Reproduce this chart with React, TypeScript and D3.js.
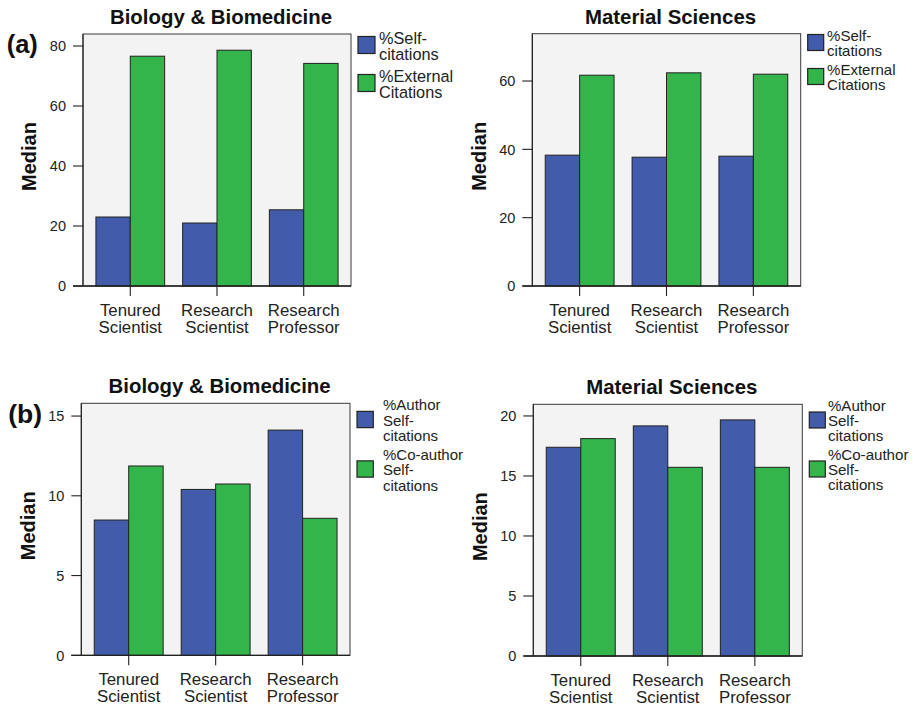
import React from "react";
import * as d3 from "d3";

// Categories shared by all four panels
const categories: string[][] = [
  ["Tenured", "Scientist"],
  ["Research", "Scientist"],
  ["Research", "Professor"],
];
const categoryKeys = ["Tenured Scientist", "Research Scientist", "Research Professor"];

// (a) self vs external citations (median, %)
const bioSelf = [23.0, 21.0, 25.4];
const bioExternal = [76.6, 78.6, 74.2];
const matSelf = [38.3, 37.7, 38.0];
const matExternal = [61.7, 62.4, 62.0];

// (b) author vs co-author self-citations (median, %)
const bioAuthor = [8.48, 10.4, 14.12];
const bioCoauthor = [11.87, 10.74, 8.59];
const matAuthor = [17.39, 19.17, 19.67];
const matCoauthor = [18.11, 15.72, 15.72];

const ticksA1 = [0, 20, 40, 60, 80];
const ticksA2 = [0, 20, 40, 60];
const ticksB1 = [0, 5, 10, 15];
const ticksB2 = [0, 5, 10, 15, 20];

const legendA = [["%Self-", "citations"], ["%External", "Citations"]];
const legendB = [["%Author", "Self-", "citations"], ["%Co-author", "Self-", "citations"]];

const BLUE = "#435bab";
const GREEN = "#34b54b";
const FONT = "'Liberation Sans', Arial, Helvetica, sans-serif";

interface LegendSpec {
  labels: string[][];
  fontSize: number;
  lineHeight: number;
  firstCenter: number;
  itemGap: number;
  swatch: number;
  textGap: number;
}

interface PanelProps {
  title: string;
  left: number;
  right: number;
  top: number;
  bottom: number;
  yMax: number;
  ticks: number[];
  series: number[][];
  legend: LegendSpec;
}

function Panel({ title, left, right, top, bottom, yMax, ticks, series, legend }: PanelProps) {
  const y = d3.scaleLinear().domain([0, yMax]).range([bottom, top]);
  const x = d3
    .scaleBand<string>()
    .domain(categoryKeys)
    .range([left, right])
    .paddingInner(0.2076)
    .paddingOuter(0.149);
  const xs = d3
    .scaleBand<number>()
    .domain(series.map((_, i) => i))
    .range([0, x.bandwidth()]);
  const colors = [BLUE, GREEN];
  const midY = (top + bottom) / 2;
  const legendX = right + 7;

  return (
    <g>
      <rect x={left} y={top} width={right - left} height={bottom - top} fill="#f3f3f3" stroke="#3a3a3a" strokeWidth={1} />
      {series.map((vals, si) =>
        vals.map((v, ci) => (
          <rect
            key={`${si}-${ci}`}
            x={(x(categoryKeys[ci]) ?? 0) + (xs(si) ?? 0)}
            y={y(v)}
            width={xs.bandwidth()}
            height={y(0) - y(v)}
            fill={colors[si]}
            stroke="#222"
            strokeWidth={1}
          />
        ))
      )}
      {/* axes */}
      <line x1={left - 10} x2={right} y1={bottom} y2={bottom} stroke="#222" strokeWidth={1.3} />
      <line x1={left} x2={left} y1={top} y2={bottom} stroke="#222" strokeWidth={1.1} />
      {ticks.map((t) => (
        <g key={t}>
          <line x1={left - 10} x2={left} y1={y(t)} y2={y(t)} stroke="#222" strokeWidth={1.1} />
          <text x={left - 17} y={y(t)} dy="0.36em" textAnchor="end" fontSize={14.5} fill="#222" fontFamily={FONT}>
            {t}
          </text>
        </g>
      ))}
      {categoryKeys.map((k, ci) => {
        const cx = (x(k) ?? 0) + x.bandwidth() / 2;
        return (
          <g key={k}>
            <line x1={cx} x2={cx} y1={bottom} y2={bottom + 10} stroke="#222" strokeWidth={1.1} />
            <text x={cx} y={bottom + 30} textAnchor="middle" fontSize={16.8} fill="#222" fontFamily={FONT}>
              {categories[ci].map((line, li) => (
                <tspan key={li} x={cx} dy={li === 0 ? 0 : 16.8}>
                  {line}
                </tspan>
              ))}
            </text>
          </g>
        );
      })}
      <text x={(left + right) / 2 + 4} y={top - 10} textAnchor="middle" fontSize={20.4} fontWeight="bold" fill="#111" fontFamily={FONT}>
        {title}
      </text>
      <text
        transform={`translate(${left - 54},${midY - 3.5}) rotate(-90)`}
        textAnchor="middle"
        dy="0.36em"
        fontSize={20}
        fontWeight="bold"
        fill="#111"
        fontFamily={FONT}
      >
        Median
      </text>
      {legend.labels.map((lines, i) => {
        const cy = legend.firstCenter + i * legend.itemGap;
        const blockTop = cy - ((lines.length - 1) * legend.lineHeight) / 2;
        const tx = legendX + legend.swatch + legend.textGap;
        return (
          <g key={i}>
            <rect
              x={legendX}
              y={cy - legend.swatch / 2 - 1}
              width={legend.swatch}
              height={legend.swatch}
              fill={colors[i]}
              stroke="#222"
              strokeWidth={1.2}
            />
            <text x={tx} y={blockTop + legend.fontSize * 0.36} fontSize={legend.fontSize} fill="#222" fontFamily={FONT}>
              {lines.map((ln, li) => (
                <tspan key={li} x={tx} dy={li === 0 ? 0 : legend.lineHeight}>
                  {ln}
                </tspan>
              ))}
            </text>
          </g>
        );
      })}
    </g>
  );
}

export default function App() {
  return (
    <svg width={915} height={707} style={{ position: "absolute", left: 0, top: 0, background: "#fff" }}>
      <rect width={915} height={707} fill="#fff" />
      <Panel
        title="Biology & Biomedicine"
        left={83}
        right={351}
        top={34}
        bottom={286}
        yMax={84}
        ticks={ticksA1}
        series={[bioSelf, bioExternal]}
        legend={{ labels: legendA, fontSize: 16.3, lineHeight: 16, firstCenter: 46, itemGap: 38, swatch: 17, textGap: 4 }}
      />
      <Panel
        title="Material Sciences"
        left={532.3}
        right={800.7}
        top={33.7}
        bottom={286}
        yMax={73.85}
        ticks={ticksA2}
        series={[matSelf, matExternal]}
        legend={{ labels: legendA, fontSize: 15, lineHeight: 15, firstCenter: 43.5, itemGap: 34, swatch: 16, textGap: 3.4 }}
      />
      <Panel
        title="Biology & Biomedicine"
        left={81.3}
        right={350}
        top={403.3}
        bottom={655.3}
        yMax={15.8}
        ticks={ticksB1}
        series={[bioAuthor, bioCoauthor]}
        legend={{ labels: legendB, fontSize: 15, lineHeight: 15.5, firstCenter: 420.5, itemGap: 49.5, swatch: 16.3, textGap: 9.7 }}
      />
      <Panel
        title="Material Sciences"
        left={533.3}
        right={802.3}
        top={404.3}
        bottom={656}
        yMax={20.97}
        ticks={ticksB2}
        series={[matAuthor, matCoauthor]}
        legend={{ labels: legendB, fontSize: 15.1, lineHeight: 15, firstCenter: 421, itemGap: 49, swatch: 16, textGap: 2.6 }}
      />
      <text x={6.7} y={53} fontSize={25.5} fontWeight="bold" fill="#111" fontFamily={FONT}>
        (a)
      </text>
      <text x={8.3} y={423} fontSize={26.5} fontWeight="bold" fill="#111" fontFamily={FONT}>
        (b)
      </text>
    </svg>
  );
}
